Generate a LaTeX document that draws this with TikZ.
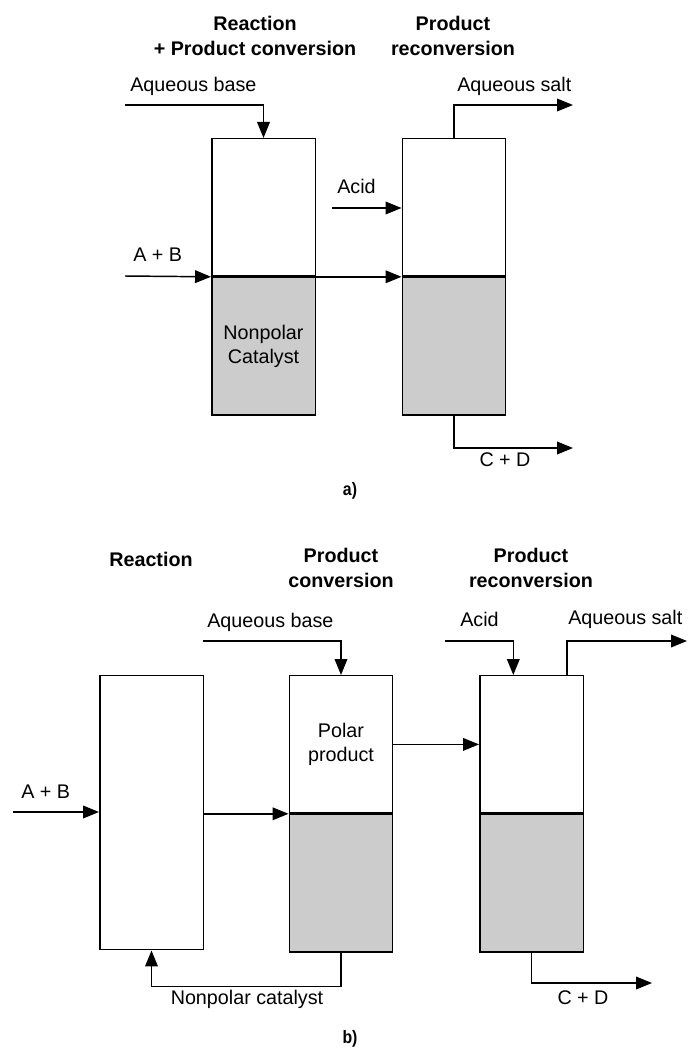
\documentclass[tikz,border=0pt]{standalone}
\usepackage{fontspec}
\setmainfont{Liberation Sans}
\setsansfont{Liberation Sans}
\newfontfamily\tagfont[FakeStretch=0.88]{Liberation Sans}
\usetikzlibrary{arrows.meta,positioning}
\definecolor{phasegray}{RGB}{204,204,204}
\newcommand{\txtfont}{\fontsize{14.8}{18}\selectfont}
\newcommand{\hdfont}{\fontsize{14.8}{18.75}\selectfont\bfseries}
\tikzset{
  vessel/.style={rectangle,draw,line width=1.1pt,minimum width=77.6pt,
                 inner sep=0pt,align=center,font=\txtfont},
  upper/.style={vessel,fill=white},
  lower/.style={vessel,fill=phasegray},
  flow/.style={-{Triangle[length=12pt,width=9.5pt]},line width=1.1pt},
  txt/.style={font=\txtfont,inner sep=0pt},
  hdr/.style={font=\hdfont,align=center,inner sep=0pt},
  tag/.style={font=\tagfont\fontsize{13.5}{16}\selectfont\bfseries,inner sep=0pt},
}
\begin{document}
\begin{tikzpicture}[x=0.75pt,y=-0.75pt]
  \useasboundingbox (0,0) rectangle (690,1052);

  % a) reaction and conversion in one vessel
  \node[hdr] (hRxA) at (255,36) {Reaction\\+ Product conversion};
  \node[hdr] (hRcA) at (453,36) {Product\\reconversion};

  \node[upper,minimum height=103pt,anchor=north] (rxA) at (263.5,138) {};
  \node[lower,minimum height=103pt,below=0pt of rxA] (rxAlow) {Nonpolar\\Catalyst};
  \node[upper,minimum height=103pt,anchor=north] (rcA) at (454,138) {};
  \node[lower,minimum height=103pt,below=0pt of rcA] (rcAlow) {};

  \coordinate (abA) at (125,105);
  \coordinate (asA) at (573,105);
  \coordinate (acA) at (332,208);
  \coordinate (inA) at (125,276);
  \coordinate (cdA) at (573,448);

  \draw[flow] (abA) -| (rxA.north);
  \draw[flow] (rcA.north) |- (asA);
  \draw[flow] (acA) -- (acA -| rcA.west);
  \draw[flow] (inA) -- (rxAlow.north west);
  \draw[flow] (rxAlow.north east) -- (rcAlow.north west);
  \draw[flow] (rcAlow.south) |- (cdA);

  \node[txt,anchor=mid west] (tAbA) at (130,88) {Aqueous base};
  \node[txt,anchor=mid west] (tAsA) at (457,88) {Aqueous salt};
  \node[txt,anchor=mid west] (tAcA) at (337,190) {Acid};
  \node[txt,anchor=mid west] (tInA) at (133,258) {A + B};
  \node[txt,anchor=mid] (tCdA) at (505,463) {C + D};
  \node[tag,anchor=mid] (tagA) at (350,492) {a)};

  % b) separate reaction, conversion and reconversion
  \node[hdr] (hRxB) at (151,559) {Reaction};
  \node[hdr] (hCvB) at (341,568) {Product\\conversion};
  \node[hdr] (hRcB) at (531,568) {Product\\reconversion};

  \node[vessel,minimum height=205.5pt,anchor=north] (rxB) at (151.5,675) {};
  \node[upper,minimum height=103pt,anchor=north] (cvB) at (341,675) {Polar\\product};
  \node[lower,minimum height=103pt,below=0pt of cvB] (cvBlow) {};
  \node[upper,minimum height=103pt,anchor=north] (rcB) at (531.5,675) {};
  \node[lower,minimum height=103pt,below=0pt of rcB] (rcBlow) {};

  \coordinate (abB) at (203,641);
  \coordinate (acB) at (445,641);
  \coordinate (asB) at (687,641);
  \coordinate (inB) at (13,812);
  \coordinate (cdB) at (652,983);

  \draw[flow] (abB) -| (cvB.north);
  \draw[flow] (acB) -| ([xshift=25.7pt]rcB.north west);
  \draw[flow] ([xshift=-12.75pt]rcB.north east) |- (asB);
  \draw[flow] (inB) -- (inB -| rxB.west);
  \draw[flow] (rxB.east |- cvBlow.north) -- (cvBlow.north west);
  \draw[flow] (cvB.east) -- (cvB.east -| rcB.west);
  \draw[flow] (cvBlow.south) -- ++(0,34) -| (rxB.south);
  \draw[flow] (rcBlow.south) |- (cdB);

  \node[txt,anchor=mid west] (tAbB) at (207,624) {Aqueous base};
  \node[txt,anchor=mid west] (tAcB) at (460,623) {Acid};
  \node[txt,anchor=mid west] (tAsB) at (568,621) {Aqueous salt};
  \node[txt,anchor=mid west] (tInB) at (21,795) {A + B};
  \node[txt,anchor=mid] (tCatB) at (247,1001) {Nonpolar catalyst};
  \node[txt,anchor=mid] (tCdB) at (583,1001) {C + D};
  \node[tag,anchor=mid] (tagB) at (350,1040) {b)};
\end{tikzpicture}
\end{document}
